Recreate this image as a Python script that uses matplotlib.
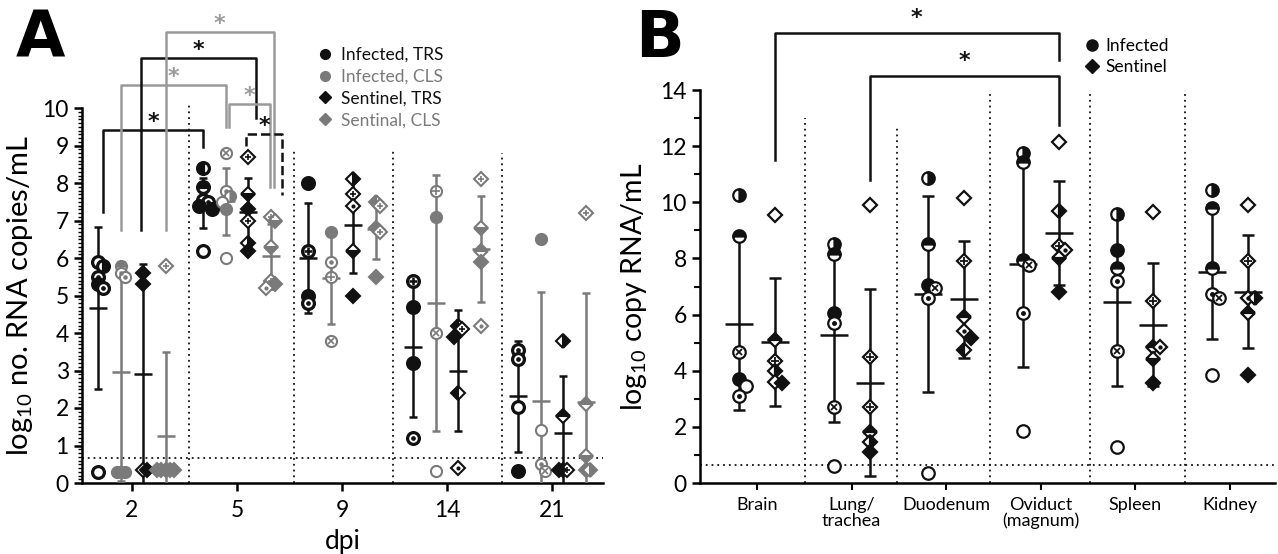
import numpy as np
import matplotlib
matplotlib.use('Agg')
import matplotlib.pyplot as plt
from matplotlib.lines import Line2D
from matplotlib.ticker import MultipleLocator

plt.rcParams['font.family'] = ['Lato', 'DejaVu Sans']
plt.rcParams['mathtext.fontset'] = 'custom'
plt.rcParams['mathtext.rm'] = 'Lato'
plt.rcParams['mathtext.it'] = 'Lato:italic'

# ---------------- Panel A data ----------------
days = ['2', '5', '9', '14', '21']
series_a = ['Infected, TRS', 'Infected, CLS', 'Sentinel, TRS', 'Sentinal, CLS']

inf_trs = [[5.9, 5.8, 5.5, 5.3, 5.2, 0.3],
           [8.4, 7.9, 7.55, 7.5, 7.4, 7.3, 6.2],
           [8.0, 6.2, 5.0, 4.8],
           [5.4, 4.7, 3.2, 1.2],
           [3.55, 3.32, 2.04, 0.33]]
inf_cls = [[5.8, 5.6, 5.5, 0.3, 0.3, 0.3],
           [8.8, 7.8, 7.65, 7.5, 7.3, 6.0],
           [6.7, 5.9, 5.5, 3.8],
           [7.8, 7.1, 4.0, 0.32],
           [6.5, 1.41, 0.52, 0.33]]
sen_trs = [[5.6, 5.3, 0.35, 0.35],
           [8.7, 7.7, 7.3, 7.0, 6.4, 6.2],
           [8.1, 7.7, 7.4, 6.2, 5.0],
           [4.2, 4.1, 3.9, 2.4, 0.4],
           [3.8, 1.8, 0.35, 0.35, 0.35]]
sen_cls = [[5.8, 0.35, 0.35, 0.35, 0.35, 0.35],
           [7.1, 7.0, 6.3, 5.4, 5.3, 5.2],
           [7.5, 7.4, 6.8, 6.7, 5.5],
           [8.1, 6.8, 6.2, 5.9, 4.2],
           [7.2, 2.12, 0.72, 0.35, 0.35]]

# per-point symbol fill kinds (f filled, o open, l/r/t/b half, x crossed, p plus, d dot)
inf_trs_kind = ['ordfdo', 'ltodffo', 'fpfd', 'pffd', 'ddof']
inf_cls_kind = ['tddlff', 'xdrofo', 'fdpx', 'pfxo', 'fodx']
sen_trs_kind = ['ffpf', 'pbfprf', 'rpdbf', 'lpfld', 'rtfpf']
sen_cls_kind = ['pfffff', 'pbbpfd', 'lpfpf', 'pbtfd', 'ptbfr']

lod_a = 0.67

# ---------------- Panel B data ----------------
organs = ['Brain', 'Lung/\ntrachea', 'Duodenum', 'Oviduct\n(magnum)', 'Spleen', 'Kidney']
series_b = ['Infected', 'Sentinel']
inf_b = [[10.25, 8.8, 4.65, 3.7, 3.45, 3.1],
         [8.5, 8.15, 6.05, 5.7, 2.7, 0.6],
         [10.85, 8.5, 7.05, 6.95, 6.6, 0.35],
         [11.75, 11.45, 7.95, 7.75, 6.05, 1.85],
         [9.6, 8.3, 7.65, 7.2, 4.7, 1.3],
         [10.45, 9.8, 7.65, 6.75, 6.6, 3.85]]
sen_b = [[9.55, 5.1, 4.35, 4.0, 3.6, 3.55],
         [9.9, 4.5, 2.7, 1.8, 1.45, 1.1],
         [10.15, 7.9, 5.9, 5.4, 5.15, 4.75],
         [12.15, 9.7, 8.45, 8.3, 8.0, 6.8],
         [9.65, 6.5, 4.85, 4.85, 4.4, 3.55],
         [9.9, 7.9, 6.6, 6.6, 6.05, 3.85]]
inf_b_kind = ['rtxfod', 'rtfdxo', 'rtfxdo', 'rttxdo', 'rftdxo', 'rttdxo']
sen_b_kind = ['otprof', 'opptrf', 'optdfl', 'orpdbf', 'optdbf', 'opdrtf']

lod_b = 0.64

BLACK = '#111111'
GRAY = '#7a7a7a'
GRAY_BR = '#9a9a9a'

fig = plt.figure(figsize=(12.78, 5.54), dpi=100)
axA = fig.add_axes([82 / 1278, 71 / 554, 521 / 1278, 375 / 554])
axB = fig.add_axes([700 / 1278, 71 / 554, 575 / 1278, 393 / 554])


def spread(vals, thr, step):
    vals = np.asarray(vals, float)
    offs = np.zeros(len(vals))
    order = np.argsort(-vals, kind='stable')
    prev = None
    k = 0
    for i in order:
        if prev is not None and abs(vals[i] - vals[prev]) < thr:
            k += 1
            offs[i] = step * (1 if k % 2 else -1) * ((k + 1) // 2)
        else:
            k = 0
        prev = i
    return offs


FILLS = {'l': 'left', 'r': 'right', 't': 'top', 'b': 'bottom'}


def draw_point(ax, x, y, kind, marker, color, ms, mew):
    base = dict(marker=marker, ms=ms, mec=color, mew=mew, ls='none', zorder=5, clip_on=False)
    if kind == 'f':
        ax.plot([x], [y], mfc=color, **base)
    elif kind in FILLS:
        ax.plot([x], [y], mfc=color, fillstyle=FILLS[kind], markerfacecoloralt='white', **base)
    else:
        ax.plot([x], [y], mfc='white', **base)
        if kind == 'x':
            ax.plot([x], [y], marker='x', ms=ms * 0.55, mec=color, mew=mew * 0.8, ls='none', zorder=6)
        elif kind == 'p':
            ax.plot([x], [y], marker='+', ms=ms * 0.7, mec=color, mew=mew * 0.8, ls='none', zorder=6)
        elif kind == 'd':
            ax.plot([x], [y], marker='o', ms=ms * 0.28, mec=color, mfc=color, ls='none', zorder=6)


def draw_group(ax, xc, vals, kinds, marker, color, ms, mew, thr, step, meanw, cap, lw):
    vals = np.asarray(vals, float)
    m = vals.mean()
    sd = vals.std(ddof=1)
    ax.errorbar([xc], [m], yerr=[sd], fmt='_', ms=meanw, mew=lw, color=color,
                ecolor=color, elinewidth=lw, capsize=cap, capthick=lw, zorder=3)
    offs = spread(vals, thr, step)
    for v, k, o in zip(vals, kinds, offs):
        draw_point(ax, xc + o, v, k, marker, color, ms, mew)


# ---------------- Panel A ----------------
offs_a = [-0.32, -0.105, 0.105, 0.32]
data_a = [inf_trs, inf_cls, sen_trs, sen_cls]
kinds_a = [inf_trs_kind, inf_cls_kind, sen_trs_kind, sen_cls_kind]
colors_a = [BLACK, GRAY, BLACK, GRAY]
markers_a = ['o', 'o', 'D', 'D']
ms_a = [8.5, 8, 7, 7]
mew_a = [2.3, 1.5, 1.5, 1.5]

for si in range(4):
    for gi in range(len(days)):
        draw_group(axA, gi + offs_a[si], data_a[si][gi], kinds_a[si][gi], markers_a[si],
                   colors_a[si], ms_a[si], mew_a[si], 0.2, 0.04, 13, 2.6, 1.8)

axA.set_xlim(-0.476, 4.486)
axA.set_ylim(0, 10)
axA.set_xticks(range(len(days)))
axA.set_xticklabels(days)
axA.set_yticks(range(0, 11))
axA.yaxis.set_minor_locator(MultipleLocator(0.1))
axA.tick_params(axis='both', which='major', labelsize=16.5, width=1.8, length=6, direction='out')
axA.tick_params(axis='y', which='minor', width=1.0, length=3)
axA.tick_params(axis='x', pad=6)
for s in ['top', 'right']:
    axA.spines[s].set_visible(False)
for s in ['left', 'bottom']:
    axA.spines[s].set_linewidth(1.8)
axA.set_xlabel('dpi', fontsize=19, labelpad=6)
axA.set_ylabel(r'log$_{10}$ no. RNA copies/mL', fontsize=21, labelpad=5)

dot = (0, (1, 2.2))
axA.axhline(lod_a, color=BLACK, ls=dot, lw=1.3, zorder=1)
sep_a = [0.54, 1.54, 2.49, 3.52]
sep_top_a = [10.13, 8.88, 8.88, 8.8]
for xs, yt in zip(sep_a, sep_top_a):
    axA.plot([xs, xs], [0, yt], color=BLACK, ls=dot, lw=1.3, zorder=1, clip_on=False)

# significance brackets (group, series, nudge) -> (group, series, nudge), level, drops
brackets_a = [
    ((0, 0, 0.04), (1, 0, 0.0), 9.41, 7.23, 8.96, BLACK, '-'),
    ((0, 1, 0.0), (1, 1, 0.0), 10.61, 6.75, 9.49, GRAY_BR, '-'),
    ((0, 2, -0.02), (1, 2, 0.08), 11.33, 6.75, 9.73, BLACK, '-'),
    ((0, 3, 0.0), (1, 3, 0.03), 12.03, 6.75, 7.89, GRAY_BR, '-'),
    ((1, 1, 0.03), (1, 3, -0.01), 10.1, 9.49, 7.89, GRAY_BR, '-'),
    ((1, 2, -0.02), (1, 3, 0.11), 9.31, 9.0, 7.68, BLACK, '--'),
]
for (g1, s1, n1), (g2, s2, n2), lev, d1, d2, col, ls in brackets_a:
    x1 = g1 + offs_a[s1] + n1
    x2 = g2 + offs_a[s2] + n2
    axA.plot([x1, x1, x2, x2], [d1, lev, lev, d2], color=col, lw=1.8, ls=ls,
             clip_on=False, zorder=2)
    axA.text((x1 + x2) / 2, lev + 0.22, '*', ha='center', va='center', fontsize=16,
             fontweight='bold', color=col, family='DejaVu Sans')

handles_a = [Line2D([], [], marker=m, ls='none', color=c, mfc=c, ms=7 if m == 'o' else 6)
             for m, c in zip(markers_a, colors_a)]
legA = fig.legend(handles_a, series_a, loc='upper left', bbox_to_anchor=(0.249, 0.915),
                  frameon=False, fontsize=12.5, handlelength=0.8, handletextpad=0.5,
                  labelspacing=0.33, borderaxespad=0, borderpad=0)
for t, c in zip(legA.get_texts(), colors_a):
    t.set_color(c)

# ---------------- Panel B ----------------
offs_b = [-0.19, 0.19]
data_b = [inf_b, sen_b]
kinds_b = [inf_b_kind, sen_b_kind]
markers_b = ['o', 'D']
for si in range(2):
    for gi in range(len(organs)):
        draw_group(axB, gi + offs_b[si], data_b[si][gi], kinds_b[si][gi], markers_b[si],
                   BLACK, 9 if si == 0 else 7.5, 1.6, 0.3, 0.07, 20, 4.3, 1.8)

axB.set_xlim(-0.603, 5.476)
axB.set_ylim(0, 14)
axB.set_xticks(range(len(organs)))
axB.set_xticklabels(organs, fontsize=13, linespacing=1.0)
axB.set_yticks(range(0, 15, 2))
axB.yaxis.set_minor_locator(MultipleLocator(1))
axB.tick_params(axis='y', which='major', labelsize=16.5, width=1.8, length=6)
axB.tick_params(axis='y', which='minor', width=1.5, length=4)
axB.tick_params(axis='x', which='major', width=1.5, length=5, pad=5)
for s in ['top', 'right']:
    axB.spines[s].set_visible(False)
for s in ['left', 'bottom']:
    axB.spines[s].set_linewidth(1.8)
axB.set_ylabel(r'log$_{10}$ copy RNA/mL', fontsize=20.5, labelpad=8)

axB.axhline(lod_b, color=BLACK, ls=dot, lw=1.3, zorder=1)
sep_b = [0.51, 1.48, 2.46, 3.52, 4.52]
sep_top_b = [13.0, 12.75, 14.0, 14.0, 14.0]
for xs, yt in zip(sep_b, sep_top_b):
    axB.plot([xs, xs], [0, yt], color=BLACK, ls=dot, lw=1.3, zorder=1, clip_on=False)

brackets_b = [
    ((0, 1), (3, 1), 16.03, 11.5, 15.07),
    ((1, 1), (3, 1), 14.5, 10.8, 12.75),
]
for (g1, s1), (g2, s2), lev, d1, d2 in brackets_b:
    x1 = g1 + offs_b[s1]
    x2 = g2 + offs_b[s2]
    axB.plot([x1, x1, x2, x2], [d1, lev, lev, d2], color=BLACK, lw=1.8, clip_on=False, zorder=2)
    axB.text((x1 + x2) / 2, lev + 0.55, '*', ha='center', va='center', fontsize=16,
             fontweight='bold', color=BLACK, family='DejaVu Sans')

handles_b = [Line2D([], [], marker=m, ls='none', color=BLACK, ms=8 if m == 'o' else 7)
             for m in markers_b]
fig.legend(handles_b, series_b, loc='upper left', bbox_to_anchor=(0.849, 0.932),
           frameon=False, fontsize=12.5, handlelength=0.8, handletextpad=0.4,
           labelspacing=0.3, borderaxespad=0, borderpad=0)

fig.text(0.012, 0.985, 'A', fontsize=46, fontweight='heavy', va='top', ha='left', family='DejaVu Sans')
fig.text(0.497, 0.985, 'B', fontsize=46, fontweight='heavy', va='top', ha='left', family='DejaVu Sans')

fig.savefig('out.png', dpi=100)
